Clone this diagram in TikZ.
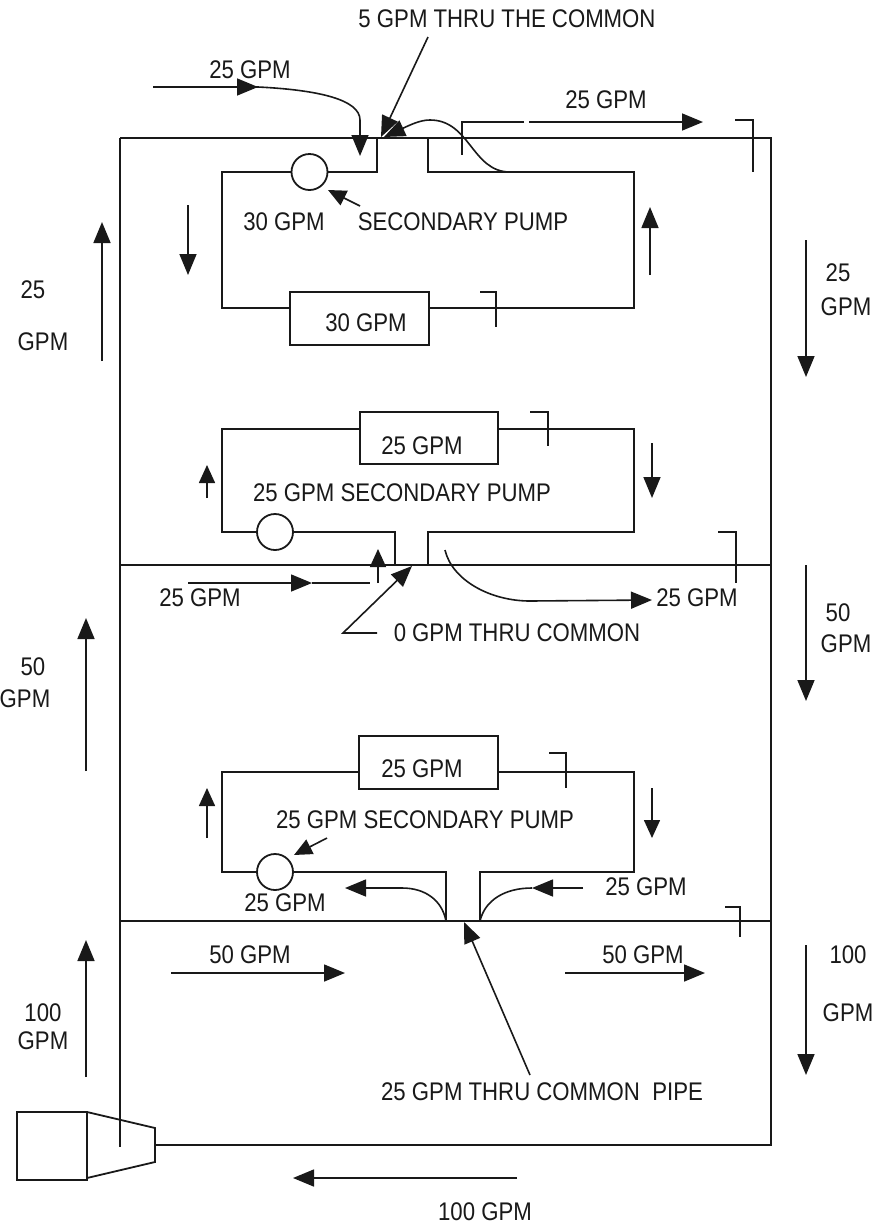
\documentclass[tikz,border=0pt]{standalone}
\usepackage{fontspec}
\setmainfont[FakeStretch=0.87]{Liberation Sans}
\usetikzlibrary{arrows.meta}
\definecolor{ink}{gray}{0.1}
\tikzset{
  every path/.append style={color=ink},
  pipe/.style={line width=1.8pt,line join=miter},
  thin pipe/.style={line width=1.6pt},
  flowarr/.style={line width=1.6pt,-{Triangle[length=21pt,width=17pt]}},
  smallarr/.style={line width=1.6pt,-{Triangle[length=18pt,width=16pt]}},
  lbl/.style={inner sep=0pt,text=ink,font=\fontsize{25.5}{27}\selectfont},
  unit/.style={draw=ink,line width=1.8pt,inner sep=0pt,fill=white},
  pumpc/.style={circle,draw=ink,line width=1.8pt,minimum size=36pt,inner sep=0pt,fill=white},
}
\newcommand{\flowa}[4][flowarr]{\coordinate (#2s) at (#3); \coordinate (#2e) at (#4); \draw[#1] (#2s) -- (#2e);}
\newcommand{\flag}[4]{\coordinate (#1a) at (#2); \coordinate (#1b) at (#3); \coordinate (#1c) at (#4); \draw[thin pipe] (#1a) -- (#1b) -- (#1c);}
\begin{document}
\begin{tikzpicture}[x=1pt,y=-1pt]
\useasboundingbox (0,0) rectangle (876,1227);
\fill[white] (0,0) rectangle (876,1227);
% corners of main loop
\coordinate (TL) at (120,138); \coordinate (TR) at (771,138);
\coordinate (BR) at (771,1145); \coordinate (BL) at (120,1147);
\coordinate (ML) at (120,565); \coordinate (MR) at (771,565);
\coordinate (LL) at (120,921); \coordinate (LR) at (771,921);
% main pump
\node[unit,minimum width=70pt,minimum height=68pt] (motor) at (52,1146) {};
\coordinate (v1) at (87,1112); \coordinate (v2) at (155,1128); \coordinate (v3) at (155,1162); \coordinate (v4) at (87,1178);
\draw[pipe] (v1) -- (v2) -- (v3) -- (v4);
\coordinate (pout) at (155,1145);
\draw[pipe] (TL) -- (BL);
\draw[pipe] (pout) -- (BR) -- (TR) -- (TL);
\draw[pipe] (ML) -- (MR);
\draw[pipe] (LL) -- (LR);
% loop 1
\node[pumpc] (p1) at (309.5,172) {};
\node[unit,minimum width=139pt,minimum height=53pt] (b1) at (359.5,318.5) {};
\coordinate (a1) at (377,138); \coordinate (a2) at (428,138);
\coordinate (a3) at (634,172); \coordinate (a4) at (634,308); \coordinate (a5) at (222,308); \coordinate (a6) at (222,172);
\draw[pipe] (a1) -- (377,172) -- (p1.east);
\draw[pipe] (p1.west) -- (a6) -- (a5) -- (a5-|b1.west);
\draw[pipe] (a4-|b1.east) -- (a4) -- (a3) -- (428,172) -- (a2);
\flag{f1}{480,292}{496,292}{496,327}
\flag{f2}{524,122}{462,122}{462,155}
\flag{f3}{735,120}{753,120}{753,172}
% loop 2
\node[pumpc] (p2) at (275,532) {};
\node[unit,minimum width=138pt,minimum height=52pt] (b2) at (429,438) {};
\coordinate (c1) at (395,565); \coordinate (c2) at (428,565);
\coordinate (c3) at (634,532); \coordinate (c4) at (634,429); \coordinate (c5) at (222,429); \coordinate (c6) at (222,532);
\draw[pipe] (c1) -- (395,532) -- (p2.east);
\draw[pipe] (p2.west) -- (c6) -- (c5) -- (c5-|b2.west);
\draw[pipe] (c4-|b2.east) -- (c4) -- (c3) -- (428,532) -- (c2);
\flag{f4}{530,412}{548,412}{548,446}
\flag{f5}{718,532}{736,532}{736,583}
% loop 3
\node[pumpc] (p3) at (275,872) {};
\node[unit,minimum width=139pt,minimum height=53pt] (b3) at (428.5,762.5) {};
\coordinate (d1) at (446,921); \coordinate (d2) at (480,921);
\coordinate (d3) at (634,872); \coordinate (d4) at (634,772); \coordinate (d5) at (222,772); \coordinate (d6) at (222,872);
\draw[pipe] (d1) -- (446,872) -- (p3.east);
\draw[pipe] (p3.west) -- (d6) -- (d5) -- (d5-|b3.west);
\draw[pipe] (d4-|b3.east) -- (d4) -- (d3) -- (480,872) -- (d2);
\flag{f6}{549,753}{566,753}{566,788}
\flag{f7}{725,907}{740,907}{740,937}
% top curves
\coordinate (i1) at (153,87); \coordinate (i2) at (258,87); \coordinate (i3) at (360,120); \coordinate (i4) at (360,156);
\draw[thin pipe] (i1) -- (i2) .. controls (320,90) and (360,100) .. (i3);
\draw[flowarr] (i1) -- (i2);
\draw[flowarr] (i3) -- (i4);
\flowa{cm5}{428,37}{381,137}
\coordinate (o1) at (510,172); \coordinate (o2) at (384,137);
\draw[flowarr] (o1) .. controls (472,172) and (470,120) .. (430,120) .. controls (420,120) and (410,125) .. (o2);
\flowa{o3}{529,122}{703,122}
\flowa[smallarr]{sp1}{360,206}{328,190}
% small loop arrows
\flowa{l1a}{188,205}{188,275}
\flowa{l1b}{650,275}{650,207}
\flowa[smallarr]{l2a}{207,498}{207,465}
\flowa{l2b}{652,443}{652,498}
\flowa[smallarr]{l3a}{207,838}{207,788}
\flowa[smallarr]{l3b}{652,788}{652,838}
% mid common area
\coordinate (e1) at (188,583); \coordinate (e2) at (312,583); \coordinate (e3) at (370,583);
\draw[thin pipe] (e2) -- (e3);
\draw[flowarr] (e1) -- (e2);
\flowa[smallarr]{e4}{378,583}{378,549}
\coordinate (z1) at (377,633); \coordinate (z2) at (343,633); \coordinate (z3) at (412,566);
\draw[flowarr] (z1) -- (z2) -- (z3);
\coordinate (g1) at (445,550); \coordinate (g2) at (530,601); \coordinate (g3) at (652,600);
\draw[flowarr] (g1) .. controls (452,580) and (490,601) .. (g2) -- (g3);
% lower common area
\flowa[smallarr]{sp3}{327,838}{294,855}
\coordinate (h1) at (446,921); \coordinate (h2) at (402,888); \coordinate (h3) at (345,888);
\draw[flowarr] (h1) .. controls (442,900) and (425,888) .. (h2) -- (h3);
\coordinate (j1) at (583,888); \coordinate (j2) at (532,888); \coordinate (j3) at (480,921);
\draw[thin pipe] (j2) .. controls (505,888) and (485,900) .. (j3);
\draw[flowarr] (j1) -- (j2);
\flowa{cm25}{530,1075}{464,922}
\flowa{n1}{171,973}{345,973}
\flowa{n2}{565,973}{705,973}
\flowa{n3}{517,1178}{293,1178}
% outer arrows
\flowa{u1}{102,361}{102,222}
\flowa{u2}{86,771}{86,618}
\flowa{u3}{86,1077}{86,940}
\flowa{r1}{806,240}{806,377}
\flowa{r2}{806,565}{806,701}
\flowa{r3}{806,945}{806,1075}
% labels
\node[lbl] (t1) at (507,19) {5 GPM THRU THE COMMON};
\node[lbl] (t2) at (250,70) {25 GPM};
\node[lbl] (t3) at (606,100) {25 GPM};
\node[lbl] (t4) at (284,222) {30 GPM};
\node[lbl] (t5) at (463,222) {SECONDARY PUMP};
\node[lbl] (t6) at (366,323) {30 GPM};
\node[lbl] (t7) at (33,290) {25};
\node[lbl] (t8) at (43,342) {GPM};
\node[lbl] (t9) at (838,273) {25};
\node[lbl] (t10) at (846,307) {GPM};
\node[lbl] (t11) at (422,446) {25 GPM};
\node[lbl] (t12) at (402,493) {25 GPM SECONDARY PUMP};
\node[lbl] (t13) at (200,598) {25 GPM};
\node[lbl] (t14) at (697,598) {25 GPM};
\node[lbl] (t15) at (517,633) {0 GPM THRU COMMON};
\node[lbl] (t16) at (33,667) {50};
\node[lbl] (t17) at (25,699) {GPM};
\node[lbl] (t18) at (838,613) {50};
\node[lbl] (t19) at (846,644) {GPM};
\node[lbl] (t20) at (422,769) {25 GPM};
\node[lbl] (t21) at (425,820) {25 GPM SECONDARY PUMP};
\node[lbl] (t22) at (285,903) {25 GPM};
\node[lbl] (t23) at (646,887) {25 GPM};
\node[lbl] (t24) at (250,955) {50 GPM};
\node[lbl] (t25) at (643,955) {50 GPM};
\node[lbl] (t26) at (848,955) {100};
\node[lbl] (t27) at (848,1013) {GPM};
\node[lbl] (t28) at (43,1013) {100};
\node[lbl] (t29) at (43,1041) {GPM};
\node[lbl] (t30) at (542,1092) {25 GPM THRU COMMON\ \ PIPE};
\node[lbl] (t31) at (485,1212) {100 GPM};
\end{tikzpicture}
\end{document}
